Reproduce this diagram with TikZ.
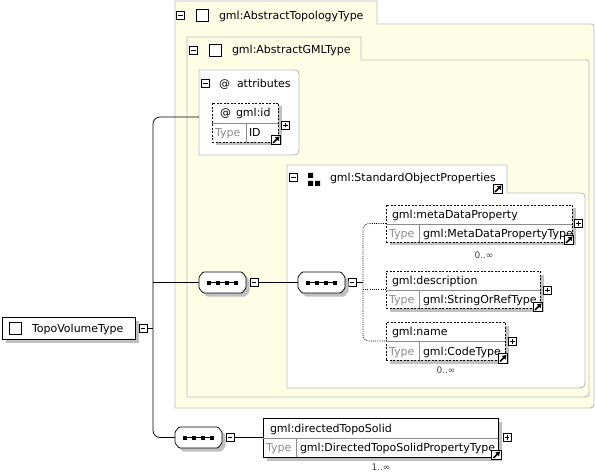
\documentclass[tikz,border=0pt]{standalone}
\usepackage{fontspec}
\setmainfont{DejaVu Sans}
\usetikzlibrary{shadows,arrows.meta}
\definecolor{ybg}{HTML}{FEFEE6}
\definecolor{grpline}{HTML}{BDBDBD}
\definecolor{shd}{HTML}{C0C0C0}
\definecolor{typegray}{HTML}{8C8C8C}
\begin{document}
\begin{tikzpicture}[x=1pt,y=-1pt,
  every node/.style={inner sep=0pt, outer sep=0pt},
  txt/.style={font=\fontsize{11}{12}\selectfont, anchor=base west},
  typ/.style={txt, text=typegray},
  card/.style={font=\fontsize{9}{10}\selectfont, text=black!75, anchor=base},
  grp/.style={draw=grpline, line width=0.9pt},
  conn/.style={draw=black, line width=0.75pt},
  dotconn/.style={draw=black, line width=0.75pt, dash pattern=on 1pt off 1.2pt},
  shdw/.style={drop shadow={shadow xshift=3.5pt, shadow yshift=-3.5pt, fill=shd, opacity=1}},
  elem/.style={draw=black, fill=white, line width=0.75pt, shdw, anchor=north west},
  optelem/.style={elem, dash pattern=on 2pt off 1.5pt},
  divl/.style={draw=black!45, line width=0.75pt},
  ctrl/.style={draw=black, fill=white, line width=0.7pt, minimum size=8pt},
  minusbox/.style={ctrl, path picture={\draw[line width=0.7pt] ([xshift=1.8pt]path picture bounding box.west) -- ([xshift=-1.8pt]path picture bounding box.east);}},
  plusbox/.style={ctrl, path picture={\draw[line width=0.7pt] ([xshift=1.8pt]path picture bounding box.west) -- ([xshift=-1.8pt]path picture bounding box.east) ([yshift=1.8pt]path picture bounding box.south) -- ([yshift=-1.8pt]path picture bounding box.north);}},
  jump/.style={draw=black, fill=white, line width=0.8pt, minimum size=9.5pt, path picture={\draw[line width=1.6pt, -{Triangle[length=4pt,width=5pt]}] ([shift={(1.8pt,1.8pt)}]path picture bounding box.south west) -- ([shift={(-1.2pt,-1.2pt)}]path picture bounding box.north east);}},
  chk/.style={draw=black, fill=white, line width=0.75pt, minimum size=12pt},
  seqbox/.style={rectangle, minimum width=47pt, minimum height=21pt}
]
\useasboundingbox (0,0) rectangle (595,476);
\fill[white] (0,0) rectangle (595,476);
% containers
\draw[grp, fill=ybg] (175,1) -- (377,1) -- (377,24) -- (589,24) .. controls (594,24) .. (594,29) -- (594,400) .. controls (594,408) .. (586,408) -- (175,408) -- cycle;
\draw[grp, fill=ybg] (187,37) -- (361,37) -- (361,60) -- (584,60) .. controls (589,60) .. (589,65) -- (589,389) .. controls (589,397) .. (581,397) -- (187,397) -- cycle;
\draw[grp, fill=white] (199,70) -- (291,70) .. controls (299,70) .. (299,78) -- (299,145) .. controls (299,155) .. (289,155) -- (199,155) -- cycle;
\draw[grp, fill=white] (287,165) -- (507,165) -- (507,193) -- (577,193) .. controls (585,193) .. (585,201) -- (585,378) .. controls (585,388) .. (575,388) -- (287,388) -- cycle;
% container titles
\node[minusbox] (attm) at (180.5,15.5) {};
\node[chk] (attc) at (202,15.5) {};
\node[txt] (attt) at (219,19.5) {gml:AbstractTopologyType};
\node[minusbox] (gmlm) at (193.5,50.5) {};
\node[chk] (gmlc) at (215,50) {};
\node[txt] (gmlt) at (232,54) {gml:AbstractGMLType};
\node[minusbox] (atrm) at (205.5,83.5) {};
\node[txt] (atra) at (219,87.3) {@};
\node[txt] (atrt) at (237,87.3) {attributes};
\node[minusbox] (sopm) at (293.5,177.5) {};
\fill (308,173) rectangle (313,178) (308,181) rectangle (313,186) (315,181) rectangle (320,186);
\node[txt] (sopt) at (330,182) {gml:StandardObjectProperties};
\node[jump] (sopj) at (498,189) {};
\coordinate (attrin) at (199,117);
% gml:id
\node[optelem, minimum width=66pt, minimum height=39pt] (gid) at (212,103) {};
\draw[divl] (212,123) -- (278,123) (246,123) -- (246,142);
\node[txt] (gida) at (220,117) {@};
\node[txt] (gidt) at (236,117) {gml:id};
\node[typ] (gidy) at (215,136.5) {Type};
\node[txt] (gidv) at (249,136.5) {ID};
\node[plusbox] (gidp) at (285.5,125) {};
\node[jump] (gidj) at (276,140) {};
% metaDataProperty
\node[optelem, minimum width=186pt, minimum height=37pt] (md) at (386,205) {};
\draw[divl] (386,224) -- (572,224) (419,224) -- (419,242);
\node[txt] (mdt) at (392,218.5) {gml:metaDataProperty};
\node[typ] (mdy) at (389,237.5) {Type};
\node[txt] (mdv) at (423,237.5) {gml:MetaDataPropertyType};
\node[plusbox] (mdp) at (578.5,223.5) {};
\node[jump] (mdj) at (569,240) {};
\node[card] (mdc) at (484,258.5) {0..∞};
% description
\node[optelem, minimum width=154pt, minimum height=37pt] (ds) at (386,271) {};
\draw[divl] (386,290) -- (540,290) (419,290) -- (419,308);
\node[txt] (dst) at (392,284.5) {gml:description};
\node[typ] (dsy) at (389,303.5) {Type};
\node[txt] (dsv) at (423,303.5) {gml:StringOrRefType};
\node[plusbox] (dsp) at (547.5,290) {};
\node[jump] (dsj) at (538,307) {};
% name
\node[optelem, minimum width=119pt, minimum height=38pt] (nm) at (386,322) {};
\draw[divl] (386,341.5) -- (505,341.5) (419,341.5) -- (419,360);
\node[txt] (nmt) at (392,335.7) {gml:name};
\node[typ] (nmy) at (389,355) {Type};
\node[txt] (nmv) at (423,355) {gml:CodeType};
\node[plusbox] (nmp) at (512.5,341.5) {};
\node[jump] (nmj) at (503,358.5) {};
\node[card] (nmc) at (446,373.5) {0..∞};
% directedTopoSolid
\node[elem, minimum width=235pt, minimum height=39pt] (dts) at (263,418) {};
\draw[divl] (263,438) -- (498,438) (296,438) -- (296,457);
\node[txt] (dtst) at (270,432) {gml:directedTopoSolid};
\node[typ] (dtsy) at (266,451.5) {Type};
\node[txt] (dtsv) at (300,451.5) {gml:DirectedTopoSolidPropertyType};
\node[plusbox] (dtsp) at (507,437.5) {};
\node[jump] (dtsj) at (496.5,455) {};
\node[card] (dtsc) at (381,470) {1..∞};
% TopoVolumeType
\node[elem, minimum width=133pt, minimum height=22.5pt] (tvt) at (2,317) {};
\node[chk] (tvtc) at (15.5,328.3) {};
\node[txt] (tvtt) at (32,332) {TopoVolumeType};
\node[minusbox] (tvtm) at (143,328.3) {};
% sequences
\node[seqbox] (s1) at (222.5,282.5) {};
\node[minusbox] (s1m) at (254,282.5) {};
\node[seqbox] (s2) at (321.5,282.5) {};
\node[minusbox] (s2m) at (352,282.5) {};
\node[seqbox] (s3) at (198.5,437.5) {};
\node[minusbox] (s3m) at (230,437.5) {};
\foreach \s in {s1,s2,s3}{
  \fill[shd, rounded corners=1pt, transform canvas={shift={(3.5pt,-3.5pt)}}]
    ([xshift=4pt]\s.north west) -- ([xshift=-4pt]\s.north east) -- ([yshift=-5pt]\s.north east) -- ([yshift=5pt]\s.south east) -- ([xshift=-4pt]\s.south east) -- ([xshift=4pt]\s.south west) -- ([yshift=5pt]\s.south west) -- ([yshift=-5pt]\s.north west) -- cycle;
  \draw[line width=0.75pt, fill=white, rounded corners=1pt]
    ([xshift=4pt]\s.north west) -- ([xshift=-4pt]\s.north east) -- ([yshift=-5pt]\s.north east) -- ([yshift=5pt]\s.south east) -- ([xshift=-4pt]\s.south east) -- ([xshift=4pt]\s.south west) -- ([yshift=5pt]\s.south west) -- ([yshift=-5pt]\s.north west) -- cycle;
  \draw[line width=0.8pt] ([xshift=-13.5pt]\s.center) -- ([xshift=13.5pt]\s.center);
  \foreach \dx in {-13.5,-4.5,4.5,13.5}
    \fill ([xshift=\dx pt]\s.center) +(-2pt,-2pt) rectangle +(2pt,2pt);
}
% connectors
\coordinate (bus) at (153,328.3);
\coordinate (chb) at (363,282.5);
\draw[conn] (tvtm.east) -- (bus);
\draw[conn, rounded corners=7pt] (attrin) -- (bus |- attrin) -- (bus |- s3.west) -- (s3.west);
\draw[conn] (bus |- s1.west) -- (s1.west);
\draw[conn] (s1m.east) -- (s2.west);
\draw[conn] (s2m.east) -- (chb);
\draw[dotconn, rounded corners=6pt] (md.west) -- (md.west -| chb) -- (nm.west -| chb) -- (nm.west);
\draw[dotconn] (ds.west -| chb) -- (ds.west);
\draw[conn] (s3m.east) -- (dts.west);
\end{tikzpicture}
\end{document}
